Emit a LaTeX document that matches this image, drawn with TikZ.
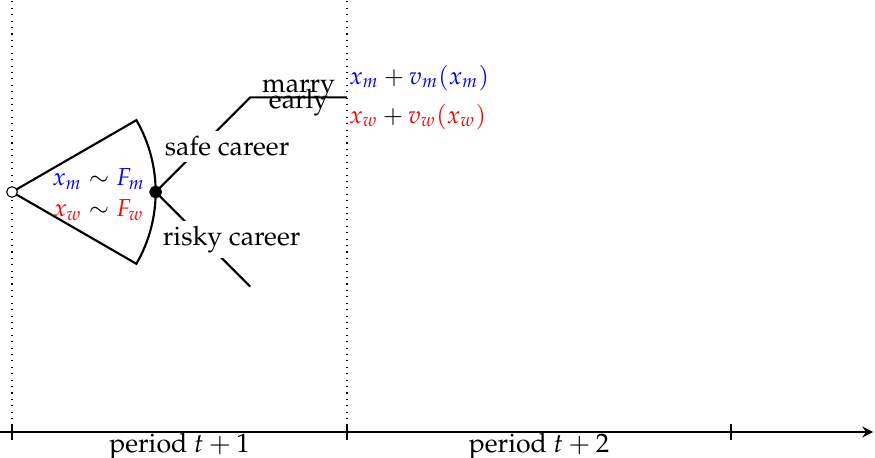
\documentclass[tikz,border=0pt]{standalone}
\usepackage[T1]{fontenc}
\usepackage{mathpazo}
\usepackage{xcolor}
\usepackage{tikz}
\usetikzlibrary{calc,arrows}

\begin{document}
\begin{tikzpicture}[>=stealth,thick,
		lbl/.style={fill=white,inner sep=2pt},
		mth/.style={font=\fontsize{9.2}{11.6}\selectfont},
		tick/.style={thick}]
			\useasboundingbox (-0.158,-0.342) rectangle (11.355,5.684);
			
			\coordinate (S) at (-0.158,0);
			\coordinate (T0) at (0,0);
			\coordinate (T1) at (4.408,0);
			\coordinate (T2) at (9.461,0);
			\coordinate (E) at (11.33,0);
			\coordinate (U0) at (0,5.684);
			\coordinate (U1) at (4.408,5.684);
			
			\draw[->] (S)--(E);
			\foreach \t in {T0,T1,T2}
				\draw[tick] ($(\t)+(0,0.1)$)--($(\t)+(0,-0.1)$);
			\draw[dotted,thin] (T0)--(U0);
			\draw[dotted,thin] (T1)--(U1);
			\node[below,inner sep=0pt] (p1) at ($(T0)!0.5!(T1)$) {period $t+1$};
			\node[below,inner sep=0pt] (p2) at ($(T1)!0.5!(T2)$) {period $t+2$};
			
			\coordinate (O) at (0,3.158);
			\coordinate (D) at ($(O)+(1.89,0)$);
			\coordinate (A) at ($(D)+(45:1.76)$);
			\coordinate (B) at ($(D)+(-45:1.76)$);
			\coordinate (M) at (A -| T1);
			
			\draw (O)--++(30:1.89) arc (30:-30:1.89)--cycle;
			\node[mth,align=center] (dist) at (1.14,3.125)
				{$\textcolor{blue}{x_m}\sim\textcolor{blue}{F_m}$\\
				 $\textcolor{red}{x_w}\sim\textcolor{red}{F_w}$};
			
			\draw (D)--(A)--(M) node[midway,align=center,inner sep=0pt] (early) {marry\\[-6pt]early};
			\draw (D)--(B);
			\node[lbl] (safe) at (2.83,3.76) {safe career};
			\node[lbl] (risky) at (2.89,2.53) {risky career};
			\node[mth,right,align=left,inner sep=0.5pt] (pay) at (M)
				{$\textcolor{blue}{x_m}+\textcolor{blue}{v_m(x_m)}$\\[3pt]
				 $\textcolor{red}{x_w}+\textcolor{red}{v_w(x_w)}$};
			
			\draw[fill=white,thin] (O) circle (2pt);
			\draw[fill] (D) circle (2pt);
		\end{tikzpicture}
\end{document}
